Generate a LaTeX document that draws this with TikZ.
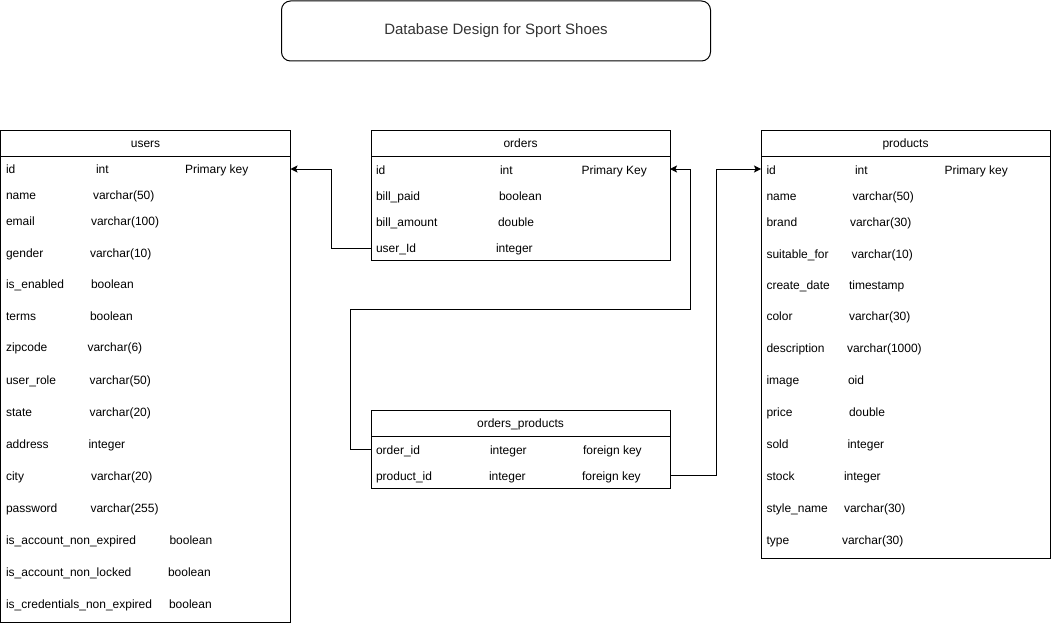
\documentclass[tikz,border=0pt]{standalone}
\usepackage{fontspec}
\setmainfont{Liberation Sans}
\usetikzlibrary{arrows.meta}
\definecolor{titlegrey}{HTML}{333333}
\tikzset{
  tbl/.style={draw=black, line width=1pt, anchor=north west, inner sep=0pt, outer sep=0pt},
  fld/.style={anchor=west, inner sep=0pt, outer sep=0pt, text height=9pt, text depth=0pt, font=\fontsize{12}{14}\selectfont},
  hdr/.style={anchor=center, inner sep=0pt, text height=9pt, text depth=0pt, font=\fontsize{12}{14}\selectfont},
  conn/.style={draw=black, line width=1pt},
  tip/.style={-{Stealth[length=7pt,width=7pt,inset=1.5pt]}},
}
\newcommand\fld[6]{\node[fld] (#1n) at (#3,#2) {#4}; \node[fld] (#1t) at (#5,#2) {#6};}
\begin{document}
\begin{tikzpicture}[x=1pt,y=-1pt]
\useasboundingbox (0,0) rectangle (1051,626);
% title
\node[draw=black, line width=1pt, rounded corners=9pt, minimum width=429pt, minimum height=60pt, anchor=north west, inner sep=0pt, text=titlegrey, font=\fontsize{15}{18}\selectfont] (title) at (281,0.5) {Database Design for Sport Shoes};
% tables
\node[tbl, minimum width=290pt, minimum height=492pt] (users) at (0.5,130.5) {};
\node[tbl, minimum width=299pt, minimum height=130pt] (orders) at (371,130.5) {};
\node[tbl, minimum width=299pt, minimum height=78pt] (op) at (371,410.5) {};
\node[tbl, minimum width=289.5pt, minimum height=428pt] (products) at (761,130.5) {};
% header lines
\draw[line width=1pt] (users.west |- 0,156) -- (users.east |- 0,156);
\draw[line width=1pt] (orders.west |- 0,156) -- (orders.east |- 0,156);
\draw[line width=1pt] (op.west |- 0,436) -- (op.east |- 0,436);
\draw[line width=1pt] (products.west |- 0,156) -- (products.east |- 0,156);
% headers
\node[hdr] (usersh) at (145.5,143) {users};
\node[hdr] (ordersh) at (520.5,143) {orders};
\node[hdr] (oph) at (520.5,423) {orders\_products};
\node[hdr] (productsh) at (905.5,143) {products};
% users fields
\fld{u1}{169}{6}{id}{96}{int}
\node[fld] (u1k) at (185,169) {Primary key};
\fld{u2}{195}{6}{name}{93}{varchar(50)}
\fld{u3}{221}{6}{email}{91}{varchar(100)}
\fld{u4}{253}{6}{gender}{90}{varchar(10)}
\fld{u5}{284}{6}{is\_enabled}{91}{boolean}
\fld{u6}{316}{6}{terms}{90}{boolean}
\fld{u7}{347}{6}{zipcode}{87.5}{varchar(6)}
\fld{u8}{380}{6}{user\_role}{89.5}{varchar(50)}
\fld{u9}{412}{6}{state}{89.5}{varchar(20)}
\fld{u10}{444}{6}{address}{88.5}{integer}
\fld{u11}{476}{6}{city}{91}{varchar(20)}
\fld{u12}{507.5}{6}{password}{90.5}{varchar(255)}
\fld{u13}{539.5}{6}{is\_account\_non\_expired}{169.5}{boolean}
\fld{u14}{571.5}{6}{is\_account\_non\_locked}{168}{boolean}
\fld{u15}{603.5}{6}{is\_credentials\_non\_expired}{169}{boolean}
% orders fields
\fld{o1}{169.5}{376}{id}{500}{int}
\node[fld] (o1k) at (581.5,169.5) {Primary Key};
\fld{o2}{196}{376}{bill\_paid}{499}{boolean}
\fld{o3}{222}{376}{bill\_amount}{498}{double}
\fld{o4}{248}{376}{user\_Id}{496}{integer}
% orders_products fields
\fld{p1}{449.5}{376}{order\_id}{490}{integer}
\node[fld] (p1k) at (583,449.5) {foreign key};
\fld{p2}{475.5}{376}{product\_id}{489}{integer}
\node[fld] (p2k) at (582,475.5) {foreign key};
% products fields
\fld{r1}{169.5}{766.5}{id}{855}{int}
\node[fld] (r1k) at (944.5,169.5) {Primary key};
\fld{r2}{196}{766.5}{name}{852.5}{varchar(50)}
\fld{r3}{222}{766.5}{brand}{850}{varchar(30)}
\fld{r4}{253.5}{766.5}{suitable\_for}{851.5}{varchar(10)}
\fld{r5}{284.5}{766.5}{create\_date}{849}{timestamp}
\fld{r6}{316}{766.5}{color}{849}{varchar(30)}
\fld{r7}{347.5}{766.5}{description}{847}{varchar(1000)}
\fld{r8}{380}{766.5}{image}{848}{oid}
\fld{r9}{412}{766.5}{price}{849}{double}
\fld{r10}{444}{766.5}{sold}{847.5}{integer}
\fld{r11}{476}{766.5}{stock}{844}{integer}
\fld{r12}{508}{766.5}{style\_name}{844}{varchar(30)}
\fld{r13}{540}{766.5}{type}{842}{varchar(30)}
% connector bends
\coordinate (c1) at (331,169);
\coordinate (c2a) at (350.5,309.5);
\coordinate (c2b) at (690.5,309.5);
\coordinate (c3) at (716,169);
% connectors
\draw[conn, tip] (orders.west |- o4n) -| (c1) -- (users.east |- c1);
\draw[conn, tip] (op.west |- p1n) -| (c2a) -- (c2b) |- (orders.east |- c1);
\draw[conn, tip] (op.east |- p2n) -| (c3) -- (products.west |- c3);
\end{tikzpicture}
\end{document}
